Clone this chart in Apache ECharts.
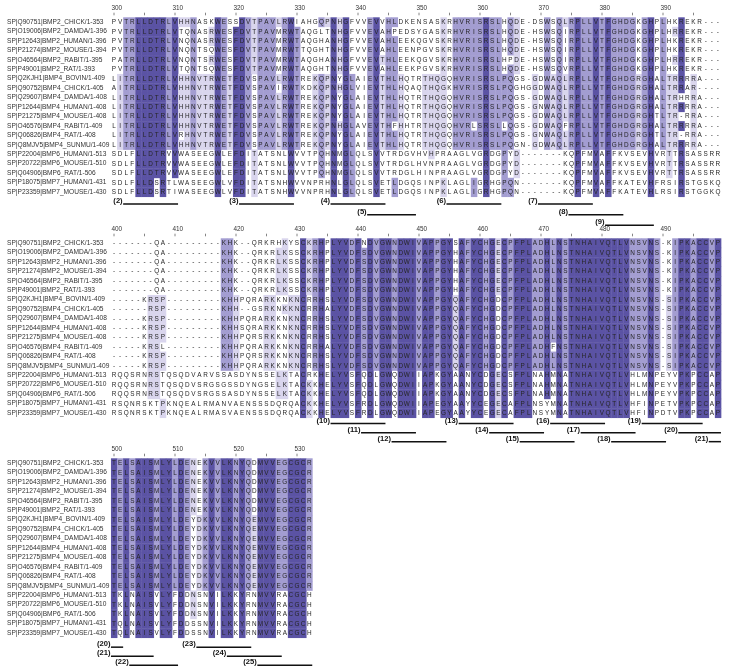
<!DOCTYPE html>
<html><head><meta charset="utf-8">
<script src="https://cdn.jsdelivr.net/npm/echarts@6/dist/echarts.min.js"></script>
<style>html,body{margin:0;padding:0;background:#fff}#c{width:731px;height:668px}</style>
</head><body><div id="c"></div>
<script>
const names = [
"SP|Q90751|BMP2_CHICK/1-353","SP|O19006|BMP2_DAMDA/1-396","SP|P12643|BMP2_HUMAN/1-396",
"SP|P21274|BMP2_MOUSE/1-394","SP|O46564|BMP2_RABIT/1-395","SP|P49001|BMP2_RAT/1-393",
"SP|Q2KJH1|BMP4_BOVIN/1-409","SP|Q90752|BMP4_CHICK/1-405","SP|Q29607|BMP4_DAMDA/1-408",
"SP|P12644|BMP4_HUMAN/1-408","SP|P21275|BMP4_MOUSE/1-408","SP|O46576|BMP4_RABIT/1-409",
"SP|Q06826|BMP4_RAT/1-408","SP|Q8MJV5|BMP4_SUNMU/1-409","SP|P22004|BMP6_HUMAN/1-513",
"SP|P20722|BMP6_MOUSE/1-510","SP|Q04906|BMP6_RAT/1-506","SP|P18075|BMP7_HUMAN/1-431",
"SP|P23359|BMP7_MOUSE/1-430"];

const blockStarts = [300, 400, 500];

const seqBlock1 = [
"PVTRLLDTRLVHHNASKWESSDVTPAVLRWIAHGQPNHGFVVEVVHLDKENSASKRHVRISRSLHQDE-DSWSQLRPLLVTFGHDGKGHPLHKREKR---",
"PVTRLLDTRLVTQNASRWESFDVTPAVMRWTAQGLTNHGFVVEVAHPEDSYGASKRHVRISRSLHQDE-HSWSQIRPLLVTFGHDGKGHPLHRREKR---",
"PVTRLLDTRLVNQNASRWESFDVTPAVMRWTAQGHANHGFVVEVAHLEEKQGVSKRHVRISRSLHQDE-HSWSQIRPLLVTFGHDGKGHPLHKREKR---",
"PVTRLLDTRLVNQNTSQWESFDVTPAVMRWTTQGHTNHGFVVEVAHLEENPGVSKRHVRISRSLHQDE-HSWSQIRPLLVTFGHDGKGHPLHKREKR---",
"PATRLLDTRLVNQNTSRWESFDVTPAVMRWTAQGHANHGFVVEVTHLEEKQGVSKRHVRISRSLHPDE-HSWSQIRPLLVTFGHDGKGHPLHRREKR---",
"PVTRLLDTRLVTQNTSQWESFDVTPAVMRWTAQGHTNHGFVVEVAHLEEKPGVSKRHVRISRSLHQDE-HSWSQVRPLLVTFGHDGKGHPLHKREKR---",
"LITRLLDTRLVHHNVTRWETFDVSPAVLRWTREKQPNYGLAIEVTHLHQTRTHQGQHVRISRSLPQGS-GDWAQLRPLLVTFGHDGRGHALTRRRRA---",
"AITRLLDTRLVHHNVTRWETFDVSPAVIRWTKDKQPNHGLVIEVTHLHQAQTHQGKHVRISRSLPQGHGGDWAQLRPLLVTFGHDGRGHALTRRAR----",
"LITRLLDTRLVHHNVTRWETFDVSPAVLRWTREKQPNYGLAIEVTHLHQTRTHQGQHVRISRSLPQGS-GDWAQLRPLLVTFGHDGRGHALTRHRRA---",
"LITRLLDTRLVHHNVTRWETFDVSPAVLRWTREKQPNYGLAIEVTHLHQTRTHQGQHVRISRSLPQGS-GNWAQLRPLLVTFGHDGRGHALTRRRRA---",
"LITRLLDTRLVHHNVTRWETFDVSPAVLRWTREKQPNYGLAIEVTHLHQTRTHQGQHVRISRSLPQGS-GDWAQLRPLLVTFGHDGRGHTLTR-RRA---",
"LITRLLDTRLVHHNVTRWETFDVSPAVLRWTREKQPNHGLAVEVTHFHHTRTHQGQHVRLSRSLLQGS-GDWAQFRPLLVTFGHDGRGHALTRRRRA---",
"LITRLLDTRLVRHNVTRWETFDVSPAVLRWTREKQPNYGLAIEVTHLHQTRTHQGQHVRISRSLPQGS-GNWAQLRPLLVTFGHDGRGHTLTR-RRA---",
"LITRLLDTRLVHHNVTRWETFDVSPAVLRWTREKQPNYGLAIEVTHLHQTRTHQGQHVRISRSLPQGN-GDWAQLRPLLVTFGHDGRGHALTRRRRA---",
"SDLFLLDTRVVWASEEGWLEFDITATSNLWVVTPQHNMGLQLSVVTRDGVHVHPRAAGLVGRDGPYD-------KQPFMVAFFKVSEVHVRTTRSASSRR",
"SDLFLLDTRVVWASEEGWLEFDITATSNLWVVTPQHNMGLQLSVVTRDGLHVNPRAAGLVGRDGPYD-------KQPFMVAFFKVSEVHVRTTRSASSRR",
"SDLFLLDTRVVWASEEGWLEFDITATSNLWVVTPQHNMGLQLSVVTRDGLHINPRAAGLVGRDGPYD-------KQPFMVAFFKVSEVHVRTTRSASSRR",
"SDLFLLDSRTLWASEEGWLVFDITATSNHWVVNPRHNLGLQLSVETLDGQSINPKLAGLIGRHGPQN-------KQPFMVAFFKATEVHFRSIRSTGSKQ",
"SDLFLLDSRTIWASEEGWLVFDITATSNHWVVNPRHNLGLQLSVETLDGQSINPKLAGLIGRHGPQN-------KQPFMVAFFKATEVHLRSIRSTGGKQ"];

const seqBlock2 = [
"-------QA---------KHK--QRKRHKYSCKRHPLYVDFNDVGWNDWIVAPPGYSAFYCHGECPFPLADHLNSTNHAIVQTLVNSVNS-KIPKACCVP",
"-------QA---------KHK--QRKRLKSSCKRHPLYVDFSDVGWNDWIVAPPGYHAFYCHGECPFPLADHLNSTNHAIVQTLVNSVNS-KIPKACCVP",
"-------QA---------KHK--QRKRLKSSCKRHPLYVDFSDVGWNDWIVAPPGYHAFYCHGECPFPLADHLNSTNHAIVQTLVNSVNS-KIPKACCVP",
"-------QA---------KHK--QRKRLKSSCKRHPLYVDFSDVGWNDWIVAPPGYHAFYCHGECPFPLADHLNSTNHAIVQTLVNSVNS-KIPKACCVP",
"-------QA---------KHK--QRKRLKSSCKRHPLYVDFSDVGWNDWIVAPPGYHAFYCHGECPFPLADHLNSTNHAIVQTLVNSVNS-KIPKACCVP",
"-------QA---------KHK--QRKRLKSSCKRHPLYVDFSDVGWNDWIVAPPGYHAFYCHGECPFPLADHLNSTNHAIVQTLVNSVNS-KIPKACCVP",
"-----KRSP---------KHHPQRARKKNKNCRRHSLYVDFSDVGWNDWIVAPPGYQAFYCHGDCPFPLADHLNSTNHAIVQTLVNSVNS-SIPKACCVP",
"------RSP---------KHH--GSRKNKKNCRRHALYVDFSDVGWNDWIVAPPGYQAFYCHGDCPFPLADHLNSTNHAIVQTLVNSVNS-SIPKACCVP",
"-----KRSP---------KHHPQRARKKNKNCRRHSLYVDFSDVGWNDWIVAPPGYQAFYCHGDCPFPLADHLNSTNHAIVQTLVNSVNS-SIPKACCVP",
"-----KRSP---------KHHSQRARKKNKNCRRHSLYVDFSDVGWNDWIVAPPGYQAFYCHGDCPFPLADHLNSTNHAIVQTLVNSVNS-SIPKACCVP",
"-----KRSP---------KHHPQRSRKKNKNCRRHSLYVDFSDVGWNDWIVAPPGYQAFYCHGDCPFPLADHLNSTNHAIVQTLVNSVNS-SIPKACCVP",
"-----KRSL---------KHHPQRARKKNKNCRRHALYVDFSDVGWNDWIVAPPGYQAFYCHGDCPFPLADHFNSTNHAIVQTLVNSVNS-SIPKACCVP",
"-----KRSP---------KHHPQRSRKKNKNCRRHSLYVDFSDVGWNDWIVAPPGYQAFYCHGDCPFPLADHLNSTNHAIVQTLVNSVNS-SIPKACCVP",
"-----KRSP---------KHHPQRARKKNKNCRRHSLYVDFSDVGWNDWIVAPPGYQAFYCHGDCPFPLADHLNSTNHAIVQTLVNSVNS-SIPKACCVP",
"RQQSRNRSTQSQDVARVSSASDYNSSELKTACRKHELYVSFQDLGWQDWIIAPKGYAANYCDGECSFPLNAHMNATNHAIVQTLVHLMNPEYVPKPCCAP",
"RQQSRNRSTQSQDVSRGSGSSDYNGSELKTACKKHELYVSFQDLGWQDWIIAPKGYAANYCDGECSFPLNAHMNATNHAIVQTLVHLMNPEYVPKPCCAP",
"RQQSRNRSTQSQDVSRGSSASDYNSSELKTACKKHELYVSFQDLGWQDWIIAPKGYAANYCDGECSFPLNAHMNATNHAIVQTLVHLMNPEYVPKPCCAP",
"RSQNRSKTPKNQEALRMANVAENSSSDQRQACKKHELYVSFRDLGWQDWIIAPEGYAAYYCEGECAFPLNSYMNATNHAIVQTLVHFINPETVPKPCCAP",
"RSQNRSKTPKNQEALRMASVAENSSSDQRQACKKHELYVSFRDLGWQDWIIAPEGYAAYYCEGECAFPLNSYMNATNHAIVQTLVHFINPDTVPKPCCAP"];

const seqBlock3 = [
"TELSAISMLYLDENEKVVLKNYQDMVVEGCGCR","TELSAISMLYLDENEKVVLKNYQDMVVEGCGCR","TELSAISMLYLDENEKVVLKNYQDMVVEGCGCR",
"TELSAISMLYLDENEKVVLKNYQDMVVEGCGCR","TELSAISMLYLDENEKVVLKNYQDMVVEGCGCR","TELSAISMLYLDENEKVVLKNYQDMVVEGCGCR",
"TELSAISMLYLDEYDKVVLKNYQEMVVEGCGCR","TELSAISMLYLDEYDKVVLKNYQEMVVEGCGCR","TELSAISMLYLDEYDKVVLKNYQEMVVEGCGCR",
"TELSAISMLYLDEYDKVVLKNYQEMVVEGCGCR","TELSAISMLYLDEYDKVVLKNYQEMVVEGCGCR","TELSAISMLYLDEYDKVVLKNYQEMVVEGCGCR",
"TELSAISMLYLDEYDKVVLKNYQEMVVEGCGCR","TELSAISMLYLDEYDKVVLKNYQEMVVEGCGCR",
"TKLNAISVLYFDDNSNVILKKYRNMVVRACGCH","TKLNAISVLYFDDNSNVILKKYRNMVVRACGCH","TKLNAISVLYFDDNSNVILKKYRNMVVRACGCH",
"TQLNAISVLYFDDSSNVILKKYRNMVVRACGCH","TQLNAISVLYFDDSSNVILKKYRNMVVRACGCH"];

const rulerTicks1 = [300,305,310,315,320,325,330,335,340,345,350,355,360,365,370,375,380,385,390,395];
const rulerTicks2 = [400,405,410,415,420,425,430,435,440,445,450,455,460,465,470,475,480,485,490,495];
const rulerTicks3 = [500,505,510,515,520,525,530];

// [label, first column, last column, annotation row]
const annot1 = [["(2)",302,310,0],["(3)",321,329,0],["(4)",336,344,0],["(5)",342,349,1],
  ["(6)",355,363,0],["(7)",370,378,0],["(8)",375,383,1],["(9)",381,388,2]];
const annot2 = [["(10)",436,444,0],["(11)",441,449,1],["(12)",446,454,2],["(13)",457,465,0],
  ["(14)",462,470,1],["(15)",467,475,2],["(16)",472,480,0],["(17)",477,485,1],["(18)",482,490,2],
  ["(19)",487,496,0],["(20)",493,499,1],["(21)",498,499,2]];
const annot3 = [["(20)",500,501,0],["(21)",500,506,1],["(22)",503,510,2],["(23)",514,522,0],
  ["(24)",519,527,1],["(25)",524,532,2]];

// ---------- layout / style ----------
const COLW = 6.1, ROWH = 9.44, GLEFT = 110.95, GW = 100 * COLW, GH = 19 * ROWH;
const TOPS = [17.3, 238.3, 458.3];
const ANN_OFF = [[7.3, 18.0, 28.5], [5.8, 15.0, 24.0], [9.5, 18.5, 27.5]];
const COLORS = [null, '#d9d5ed', '#a39dd1', '#5b53a4'];
const FONT = '"Liberation Sans", Arial, sans-serif';

function pidLevels(seqs) {
  const n = seqs.length, L = seqs[0].length;
  const lv = seqs.map(() => new Array(L).fill(0));
  for (let j = 0; j < L; j++) {
    const cnt = {};
    seqs.forEach(s => { const c = s[j]; if (c && c !== '-') cnt[c] = (cnt[c] || 0) + 1; });
    let max = 0; for (const k in cnt) max = Math.max(max, cnt[k]);
    const pct = max / n * 100;
    const level = pct > 80 ? 3 : pct > 60 ? 2 : pct > 40 ? 1 : 0;
    seqs.forEach((s, i) => { if (s[j] !== '-' && cnt[s[j]] === max) lv[i][j] = level; });
  }
  return lv;
}

const blocks = [
  {start: blockStarts[0], seqs: seqBlock1, ticks: rulerTicks1, ann: annot1},
  {start: blockStarts[1], seqs: seqBlock2, ticks: rulerTicks2, ann: annot2},
  {start: blockStarts[2], seqs: seqBlock3, ticks: rulerTicks3, ann: annot3}
];

const grid = [], xAxis = [], yAxis = [], series = [];
blocks.forEach((b, bi) => {
  grid.push({left: GLEFT, top: TOPS[bi], width: GW, height: GH});
  xAxis.push({type: 'value', gridIndex: bi, min: b.start - 0.5, max: b.start + 99.5, show: false});
  yAxis.push({type: 'category', gridIndex: bi, data: names, inverse: true,
    axisLine: {show: false}, axisTick: {show: false}, splitLine: {show: false},
    axisLabel: {show: true, interval: 0, align: 'left', margin: GLEFT - 7,
      fontSize: 6.6, color: '#333', fontFamily: FONT}});

  const lv = pidLevels(b.seqs);
  const items = [], chars = [], levels = [];
  b.seqs.forEach((s, r) => {
    for (let j = 0; j < s.length; j++) {
      items.push([b.start + j, r]); chars.push(s[j]); levels.push(lv[r][j]);
    }
  });
  series.push({
    type: 'custom', xAxisIndex: bi, yAxisIndex: bi, data: items, clip: false, silent: true,
    renderItem(params, api) {
      const i = params.dataIndex;
      const c = api.coord([api.value(0), api.value(1)]);
      const sz = api.size([1, 1]);
      const ch = [];
      const l = levels[i];
      if (l > 0) ch.push({type: 'rect', shape: {x: c[0] - sz[0] / 2, y: c[1] - sz[1] / 2, width: sz[0] + 0.4, height: sz[1] + 0.4},
        style: {fill: COLORS[l]}});
      ch.push({type: 'text', style: {text: chars[i], x: c[0], y: c[1] + 0.3, align: 'center', verticalAlign: 'middle',
        font: '6.4px ' + FONT, fill: '#262626'}});
      return {type: 'group', children: ch};
    }
  });

  series.push({
    type: 'custom', xAxisIndex: bi, yAxisIndex: bi, data: b.ticks.map(t => [t, 0]), clip: false, silent: true,
    renderItem(params, api) {
      const v = api.value(0);
      const p = api.coord([v, 0]);
      const top = p[1] - api.size([0, 1])[1] / 2;
      const ch = [{type: 'line', shape: {x1: p[0], y1: top - 4.6, x2: p[0], y2: top - 2}, style: {stroke: '#666', lineWidth: 0.8}}];
      if (v % 10 === 0) {
        const pl = api.coord([v - 0.5, 0]);
        ch.push({type: 'text', style: {text: String(v), x: pl[0] + 0.5, y: top - 8.6, align: 'left', verticalAlign: 'middle',
          font: '6.4px ' + FONT, fill: '#333'}});
      }
      return {type: 'group', children: ch};
    }
  });

  const annLabels = b.ann.map(a => a[0]);
  series.push({
    type: 'custom', xAxisIndex: bi, yAxisIndex: bi, data: b.ann.map(a => [a[1], a[2], a[3]]), clip: false, silent: true,
    renderItem(params, api) {
      const s = api.value(0), e = api.value(1), lvl = api.value(2);
      const p1 = api.coord([s - 0.5, 18]), p2 = api.coord([e + 0.5, 18]);
      const bottom = p1[1] + api.size([0, 1])[1] / 2;
      const y = bottom + ANN_OFF[bi][lvl];
      return {type: 'group', children: [
        {type: 'line', shape: {x1: p1[0], y1: y, x2: p2[0], y2: y}, style: {stroke: '#111', lineWidth: 1.5}},
        {type: 'text', style: {text: annLabels[params.dataIndex], x: p1[0] - 0.5, y: y + 1.2, align: 'right', verticalAlign: 'bottom',
          font: 'bold 7.6px ' + FONT, fill: '#111'}}
      ]};
    }
  });
});

const chart = echarts.init(document.getElementById('c'), null, {renderer: 'canvas', width: 731, height: 668});
chart.setOption({animation: false, backgroundColor: '#fff', grid, xAxis, yAxis, series});
</script>
</body></html>
